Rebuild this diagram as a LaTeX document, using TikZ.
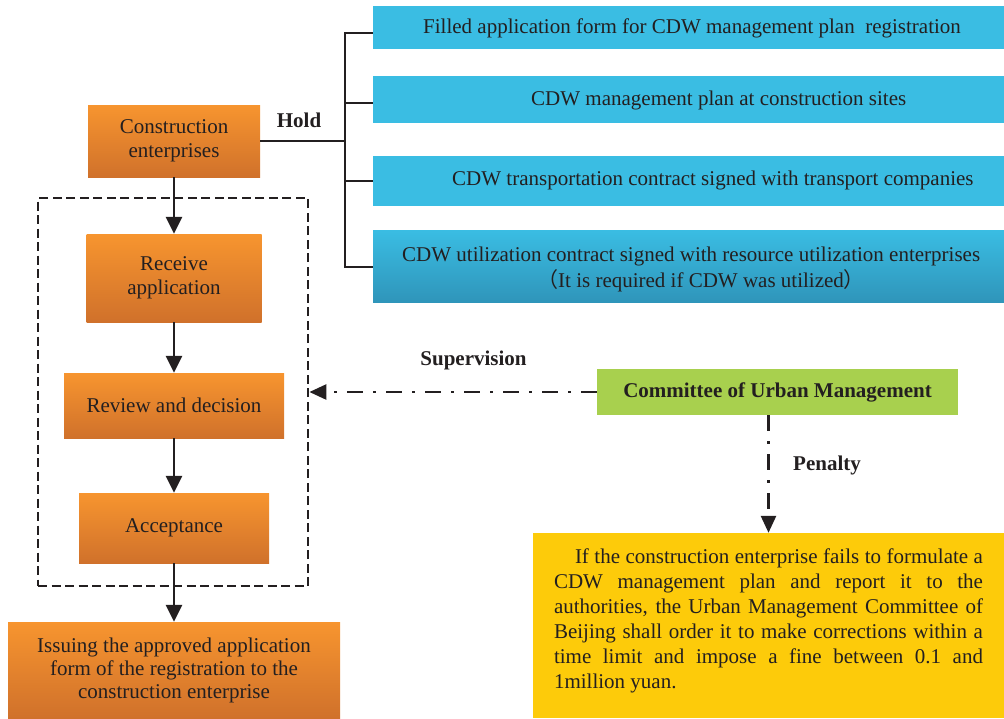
\documentclass[tikz,border=0pt]{standalone}
\usepackage{fontspec}
\setmainfont{Liberation Serif}
\newfontfamily\cjkfont{Noto Sans CJK SC}
\usetikzlibrary{arrows.meta}
\definecolor{ink}{HTML}{231F20}
\definecolor{orTop}{HTML}{F7952F}
\definecolor{orBot}{HTML}{D0712B}
\definecolor{bluebox}{HTML}{3ABDE3}
\definecolor{blueBot}{HTML}{2F95BA}
\definecolor{greenbox}{HTML}{A8D04E}
\definecolor{yellowbox}{HTML}{FDCB0A}
\tikzset{
  fnt/.style={font=\fontsize{21}{24}\selectfont},
  orangebox/.style={rectangle, inner sep=0pt, top color=orTop, bottom color=orBot, text=ink, align=center, fnt},
  bluerect/.style={rectangle, inner sep=0pt, fill=bluebox, minimum width=631pt},
  bluetext/.style={inner sep=0pt, anchor=base west, text=ink, fnt},
  boldlabel/.style={inner sep=0pt, anchor=base, text=ink, font=\fontsize{21}{24}\selectfont\bfseries},
  conn/.style={draw=ink, line width=2.6pt},
  flowarrow/.style={conn, -{Triangle[length=17pt,width=16pt]}},
  dashdot/.style={draw=ink, line width=2.6pt, dash pattern=on 16pt off 10pt on 3pt off 10pt, -{Triangle[length=17pt,width=15pt]}}
}
\begin{document}
\begin{tikzpicture}[x=1pt,y=-1pt]
\useasboundingbox (0,0) rectangle (1004,718);

% left column
\node[orangebox, minimum width=172pt, minimum height=72pt] (ce) at (174,141) {Construction\\enterprises};
\node[draw=ink, line width=2.8pt, dash pattern=on 9pt off 4.5pt, rectangle, minimum width=270pt, minimum height=388pt, inner sep=0pt] (ctrl) at (173,392) {};
\node[orangebox, minimum width=175pt, minimum height=88pt] (recv) at (174,278) {Receive\\application};
\node[orangebox, minimum width=220pt, minimum height=65pt] (rev) at (174,405.5) {Review and decision};
\node[orangebox, minimum width=190pt, minimum height=70pt] (acc) at (174,528) {Acceptance};
\node[orangebox, minimum width=332pt, minimum height=96pt, font=\fontsize{21}{23}\selectfont] (iss) at (174,670) {Issuing the approved application\\form of the registration to the\\construction enterprise};

\draw[flowarrow] (ce.south) -- (recv.north);
\draw[flowarrow] (recv.south) -- (rev.north);
\draw[flowarrow] (rev.south) -- (acc.north);
\draw[flowarrow] (acc.south) -- (iss.north);

% blue boxes
\node[bluerect, minimum height=43pt] (b1) at (688.5,27.5) {};
\node[bluerect, minimum height=47pt] (b2) at (688.5,99.5) {};
\node[bluerect, minimum height=50pt] (b3) at (688.5,181) {};
\node[rectangle, inner sep=0pt, minimum width=631pt, minimum height=72pt, top color=bluebox, bottom color=blueBot] (b4) at (688.5,266) {};
\node[bluetext] (t1) at (423,33) {Filled application form for CDW management plan\ \ registration};
\node[bluetext] (t2) at (531,105) {CDW management plan at construction sites};
\node[bluetext] (t3) at (452,185) {CDW transportation contract signed with transport companies};
\node[bluetext] (t4) at (402,261) {CDW utilization contract signed with resource utilization enterprises};
\node[bluetext] (t5) at (537,287) {{\cjkfont （}It is required if CDW was utilized{\cjkfont ）}};

% bracket
\coordinate (jc) at (345,141);
\coordinate (j1) at (345,33);
\coordinate (j2) at (345,103);
\coordinate (j3) at (345,181);
\coordinate (j4) at (345,267);
\draw[conn] (ce.east) -- (jc);
\draw[conn] (b1.west |- j1) -- (j1) -- (j4) -- (b4.west |- j4);
\draw[conn] (j2) -- (b2.west |- j2);
\draw[conn] (j3) -- (b3.west |- j3);
\node[boldlabel] (hold) at (299,127) {Hold};

% committee
\node[rectangle, inner sep=0pt, fill=greenbox, minimum width=361pt, minimum height=46pt, text=ink, font=\fontsize{21}{24}\selectfont\bfseries] (com) at (777.5,392) {Committee of Urban Management};
\node[rectangle, inner sep=0pt, fill=yellowbox, minimum width=471pt, minimum height=185pt] (yel) at (768.5,625.5) {};
\node[inner sep=0pt, text width=429pt, align=justify, text=ink, font=\fontsize{21}{25}\selectfont] (ytext) at (768.5,621) {\hspace*{21pt}If the construction enterprise fails to formulate a\linebreak CDW management plan and report it to the\linebreak authorities, the Urban Management Committee of\linebreak Beijing shall order it to make corrections within a\linebreak time limit and impose a fine between 0.1 and\linebreak 1million yuan.};

\draw[dashdot] (com.west) -- (ctrl.east);
\draw[dashdot] (yel.north |- com.south) -- (yel.north);
\node[boldlabel] (sup) at (473.5,365) {Supervision};
\node[boldlabel] (pen) at (827,470) {Penalty};
\end{tikzpicture}
\end{document}
